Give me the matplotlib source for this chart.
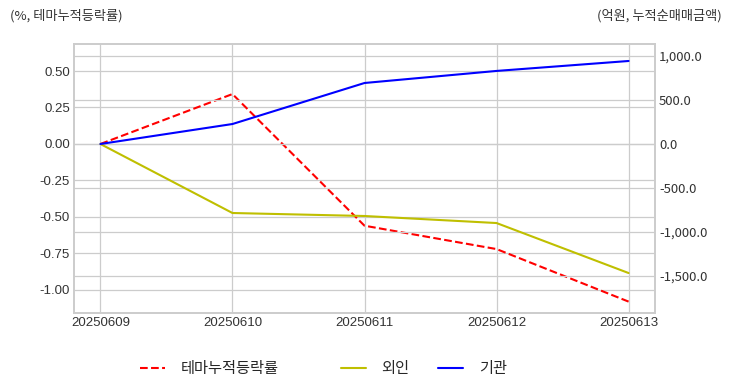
import matplotlib
matplotlib.use("Agg")
import matplotlib.pyplot as plt
import seaborn as sns

# data
dates = ["20250609", "20250610", "20250611", "20250612", "20250613"]
theme_rate = [0.0, 0.342, -0.56, -0.72, -1.08]
foreign = [0.0, -784, -818, -898, -1466]
institution = [0.0, 227, 693, 830, 943]

sns.set_style("whitegrid")
plt.rcParams['font.family'] = ['Noto Sans CJK KR', 'DejaVu Sans']
plt.rcParams['axes.unicode_minus'] = False

fig = plt.figure(figsize=(7.32, 3.92), dpi=100)
ax = fig.add_axes([74/732, 1 - 313/392, (655-74)/732, (313-44)/392])
ax2 = ax.twinx()

x = range(len(dates))
l1, = ax.plot(x, theme_rate, color="r", linestyle="--", lw=1.5, label="테마누적등락률")
l2, = ax2.plot(x, foreign, color="y", lw=1.5, label="외인")
l3, = ax2.plot(x, institution, color="b", lw=1.5, label="기관")

ax.set_xticks(list(x))
ax.set_xticklabels(dates, family="Liberation Sans")
ax.set_ylim(-1.158, 0.685)
ax2.set_ylim(-1920, 1136)
ax.set_yticks([-1.0, -0.75, -0.5, -0.25, 0.0, 0.25, 0.5])
ax.set_yticklabels([f"{v:.2f}" for v in ax.get_yticks()], family="Liberation Sans")
ax2.set_yticks([-1500, -1000, -500, 0, 500, 1000])
ax2.set_yticklabels([f"{v:,.1f}" for v in ax2.get_yticks()])

for a in (ax, ax2):
    a.tick_params(labelsize=9.5, length=0, pad=3, colors="#333333")
    for s in a.spines.values():
        s.set_color("#cccccc")
        s.set_linewidth(1.2)
ax2.grid(True, color="#cccccc", lw=0.9)
ax.grid(True, color="#cccccc", lw=0.9)

fig.text(10/732, 1 - 16/392, "(%, 테마누적등락률)", fontsize=9.5, va="center", color="#333333")
fig.text(722/732, 1 - 16/392, "(억원, 누적순매매금액)", fontsize=9.5, va="center", ha="right", color="#333333")

# legend in two parts to match the uneven spacing
fig.legend(handles=[l1], loc="center left", bbox_to_anchor=(126/732, 1 - 369/392),
           frameon=False, fontsize=11, handlelength=1.65, handletextpad=1.0)
fig.legend(handles=[l2, l3], loc="center left", bbox_to_anchor=(327/732, 1 - 369/392),
           ncol=2, frameon=False, fontsize=11, handlelength=1.65, handletextpad=1.0,
           columnspacing=1.9)

fig.savefig("out.png", dpi=100)
